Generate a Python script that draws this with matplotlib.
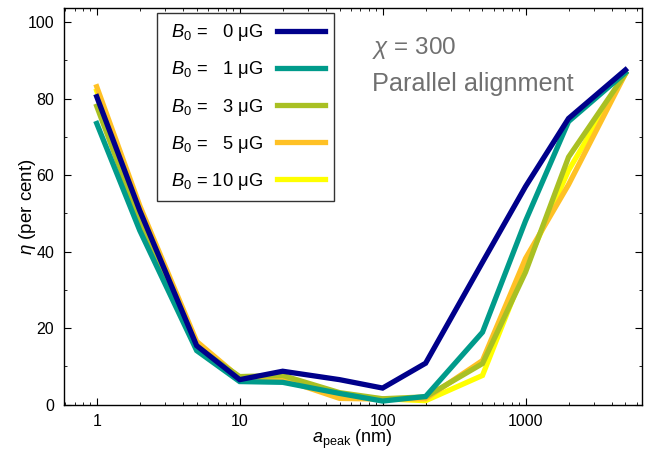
import numpy as np
import matplotlib
matplotlib.use("Agg")
import matplotlib.pyplot as plt

plt.rcParams['font.family'] = ['Liberation Sans', 'DejaVu Sans']
plt.rcParams['mathtext.fontset'] = 'custom'
plt.rcParams['mathtext.rm'] = 'Liberation Sans'
plt.rcParams['mathtext.it'] = 'Liberation Sans:italic'

# grain size a_peak (nm)
a_peak = [1, 2, 5, 10, 20, 50, 100, 200, 500, 1000, 2000, 5000]

# eta (per cent) for each B0
eta_0 = [80.5, 50.7, 15.4, 6.5, 8.7, 6.5, 4.3, 10.8, 37.2, 57.0, 74.8, 87.5]
eta_1 = [73.5, 45.5, 14.1, 6.0, 5.8, 2.9, 0.9, 2.1, 18.9, 48.0, 74.0, 86.8]
eta_3 = [78.0, 48.0, 15.0, 7.3, 7.6, 3.1, 1.5, 2.0, 10.7, 34.6, 64.7, 86.5]
eta_5 = [83.1, 52.0, 16.5, 7.0, 6.6, 1.6, 1.4, 1.5, 11.5, 38.2, 57.5, 86.5]
eta_10 = [82.0, 51.0, 16.0, 7.0, 7.0, 2.0, 1.5, 1.0, 7.6, 36.0, 61.2, 86.5]

labels = [r' $B_0$ =   0 μG', r' $B_0$ =   1 μG', r' $B_0$ =   3 μG',
          r' $B_0$ =   5 μG', r' $B_0$ = 10 μG']
series = [eta_0, eta_1, eta_3, eta_5, eta_10]
colors = ['#00008b', '#009b8b', '#a9c023', '#ffc125', '#ffff00']

fig = plt.figure(figsize=(6.51, 4.51), dpi=100)
ax = fig.add_axes([0.0983, 0.1031, 0.8874, 0.8792])

# draw the strongest field first so B0 = 0 ends on top
lines = []
for i in range(len(series) - 1, -1, -1):
    ln, = ax.plot(a_peak, series[i], color=colors[i], lw=3.8,
                  solid_joinstyle='miter', label=labels[i])
    lines.append(ln)
lines = lines[::-1]

ax.set_xscale('log')
ax.set_xlim(0.59, 6500)
ax.set_ylim(0, 103.7)
ax.set_xticks([1, 10, 100, 1000])
ax.set_xticklabels(['1', '10', '100', '1000'])
ax.set_yticks([0, 20, 40, 60, 80, 100])
ax.set_yticks(np.arange(10, 101, 20), minor=True)
ax.tick_params(which='both', direction='in', top=True, right=True,
               labelsize=11.5, pad=7)
ax.tick_params(which='major', length=5)
ax.tick_params(which='minor', length=2.5)
for s in ax.spines.values():
    s.set_linewidth(1.0)

ax.set_xlabel(r'$a_{\rm peak}$ (nm)', fontsize=13, labelpad=-1)
ax.set_ylabel(r'$\eta$ (per cent)', fontsize=13.5, labelpad=-7.5)

leg = ax.legend(handles=lines, loc='upper left', bbox_to_anchor=(0.161, 0.987),
                borderaxespad=0, markerfirst=False, fontsize=13.2,
                handlelength=2.6, labelspacing=0.88, borderpad=0.5,
                handletextpad=0.75, fancybox=False, framealpha=1,
                edgecolor='#333333')
leg.get_frame().set_linewidth(1.0)

ax.text(0.533, 0.900, r'$\chi$ = 300', transform=ax.transAxes,
        fontsize=17.5, color='#707070', va='center')
ax.text(0.533, 0.808, 'Parallel alignment', transform=ax.transAxes,
        fontsize=18.2, color='#707070', va='center')

fig.savefig('out.png', dpi=100)
